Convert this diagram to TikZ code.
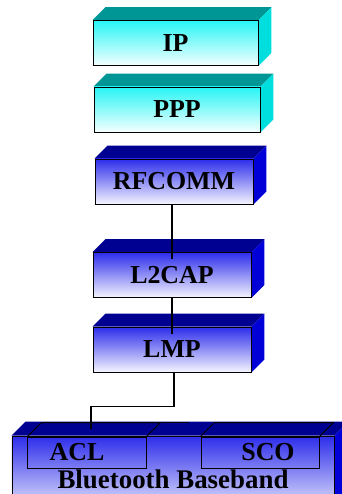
\documentclass[tikz,border=0pt]{standalone}
\usepackage{fontspec}
\setmainfont{Liberation Serif}
\usetikzlibrary{backgrounds}

\definecolor{tealtop}{RGB}{0,150,150}
\definecolor{tealside}{RGB}{0,222,222}
\definecolor{cyanfront}{RGB}{40,245,245}
\definecolor{navytop}{RGB}{0,0,145}
\definecolor{blueside}{RGB}{0,0,215}
\definecolor{bluefront}{RGB}{45,45,235}

\tikzset{
    layer/.style={draw=black, line width=0.8bp, minimum width=158bp,
        minimum height=45bp, inner sep=0pt,
        font=\bfseries\fontsize{26}{30}\selectfont},
    cyanlayer/.style={layer, top color=cyanfront, bottom color=white!96!cyan},
    bluelayer/.style={layer, top color=bluefront, bottom color=white!96!blue},
    slot/.style={draw=black, line width=1bp, minimum width=118bp,
        minimum height=31bp, inner sep=0pt},
    tagtext/.style={inner sep=0pt, font=\bfseries\fontsize{26}{30}\selectfont},
    wire/.style={line width=1.3bp, black},
}

\begin{document}
\begin{tikzpicture}[x=1bp, y=-1bp]
    \def\dx{13}
    \def\dy{13}
    \def\bx{14}
    \def\by{14}
    \clip (0,0) rectangle (341,494);

    % Protocol layers
    \node[cyanlayer, minimum width=165bp] (ip) at (175.5,43) {IP};
    \node[cyanlayer, minimum width=166bp] (ppp) at (177,109.5) {PPP};
    \node[bluelayer] (rfcomm) at (174,181.5) {RFCOMM};
    \node[bluelayer] (l2cap) at (172,275) {L2CAP};
    \node[bluelayer] (lmp) at (172,349.5) {LMP};

    % Baseband block (runs off the bottom edge)
    \node[draw=black, line width=0.8bp, minimum width=322bp, minimum height=84bp,
        inner sep=0pt, top color=bluefront, bottom color=white] (bb) at (173,478) {};
    \node[tagtext, font=\bfseries\fontsize{27}{30}\selectfont] (bbtext) at (173,479.5)
        {Bluetooth Baseband};

    % ACL / SCO slots
    \node[slot] (acl) at (87,452.5) {};
    \node[tagtext] (acltext) at ([xshift=-10bp]acl.center) {ACL};
    \node[slot] (sco) at (260,452.5) {};
    \node[tagtext] (scotext) at ([xshift=8bp]sco.center) {SCO};

    % Top and side faces
    \begin{pgfonlayer}{background}
        \foreach \n/\tc/\sc in {ip/tealtop/tealside, ppp/tealtop/tealside,
                rfcomm/navytop/blueside, l2cap/navytop/blueside, lmp/navytop/blueside}{
            \fill[\tc] (\n.north west) -- ([shift={(\dx,-\dy)}]\n.north west)
                -- ([shift={(\dx,-\dy)}]\n.north east) -- (\n.north east) -- cycle;
            \fill[\sc] (\n.north east) -- ([shift={(\dx,-\dy)}]\n.north east)
                -- ([shift={(\dx,-\dy)}]\n.south east) -- (\n.south east) -- cycle;
        }
        \fill[navytop] (bb.north west) -- ([shift={(\bx,-\by)}]bb.north west)
            -- ([shift={(\bx,-\by)}]bb.north east) -- (bb.north east) -- cycle;
        \fill[blueside] (bb.north east) -- ([shift={(\bx,-\by)}]bb.north east)
            -- ([shift={(\bx,-\by)}]bb.south east) -- (bb.south east) -- cycle;
    \end{pgfonlayer}

    % Slot tops on the baseband
    \draw[line width=1bp] (acl.north west) -- ([shift={(\bx,-\by)}]acl.north west)
        -- ([shift={(\bx,-\by)}]acl.north east) -- (acl.north east);
    \draw[line width=1bp] ([shift={(\bx,-\by)}]acl.north east) -- ++(28,0);
    \draw[line width=1bp] (sco.north west) -- ([shift={(\bx,-\by)}]sco.north west)
        -- ([shift={(\bx,-\by)}]sco.north east) -- (sco.north east);

    % Connectors
    \coordinate (aclin) at ([shift={(4,-8)}]acl.north);
    \draw[wire] (l2cap.north |- rfcomm.south) -- ([yshift=-7bp]l2cap.north);
    \draw[wire] (lmp.north |- l2cap.south) -- ([yshift=-7bp]lmp.north);
    \draw[wire] ([xshift=2bp]lmp.south) -- ++(0,34) -| (aclin);
\end{tikzpicture}
\end{document}
